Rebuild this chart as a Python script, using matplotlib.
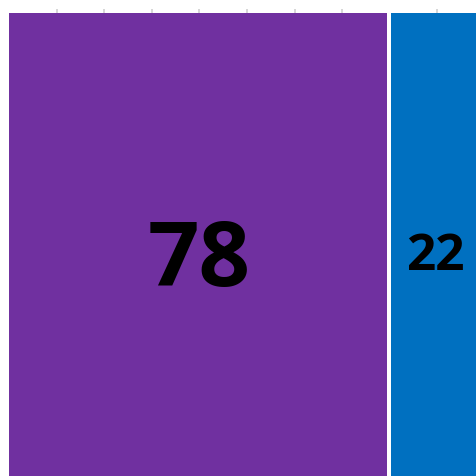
import matplotlib
matplotlib.use('Agg')
import matplotlib.pyplot as plt
from matplotlib.patches import Rectangle

# data
labels = ['78', '22']
values = [78, 22]
colors = ['#7030A0', '#0070C0']

# box extents along x (axis units, one unit per top tick)
x_starts = [0.0, 8.03]
x_ends = [7.94, 9.83]
tick_pos = [1, 2, 3, 4, 5, 6, 7, 9]
font_sizes = [65, 37]
text_base = [0.4125, 0.447]

fig = plt.figure(figsize=(4.77, 4.77), dpi=100)
ax = fig.add_axes([9/477., 0, 468/477., 463/477.])

for i in range(len(values)):
    ax.add_patch(Rectangle((x_starts[i], 0), x_ends[i] - x_starts[i], 1,
                           facecolor=colors[i], edgecolor='none'))
    ax.text((x_starts[i] + x_ends[i]) / 2. + 0.03, text_base[i], labels[i],
            ha='center', va='baseline', fontsize=font_sizes[i],
            fontweight='bold', family='Open Sans', color='black')

ax.set_xlim(0, 9.83)
ax.set_ylim(0, 1)
for s in ax.spines.values():
    s.set_visible(False)
ax.set_yticks([])
ax.set_xticks(tick_pos)
ax.xaxis.tick_top()
ax.tick_params(axis='x', direction='out', length=3, width=1.2, color='#d0d0d0',
               labeltop=False, labelbottom=False)

fig.savefig('out.png', dpi=100)
